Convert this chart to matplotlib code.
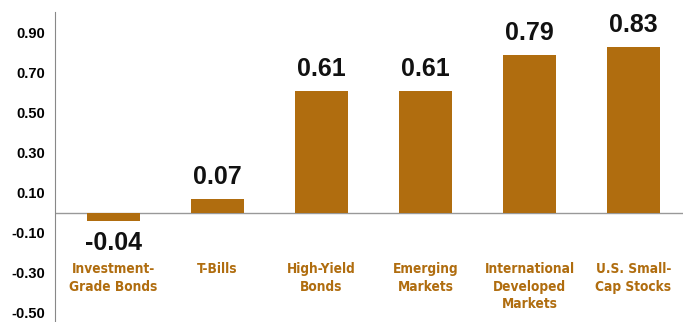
import matplotlib
matplotlib.use("Agg")
import matplotlib.pyplot as plt

categories = ["Investment-\nGrade Bonds", "T-Bills", "High-Yield\nBonds",
              "Emerging\nMarkets", "International\nDeveloped\nMarkets",
              "U.S. Small-\nCap Stocks"]
values = [-0.04, 0.07, 0.61, 0.61, 0.79, 0.83]
value_labels = ["-0.04", "0.07", "0.61", "0.61", "0.79", "0.83"]
yticks = [-0.50, -0.30, -0.10, 0.10, 0.30, 0.50, 0.70, 0.90]

gold = "#B06D0F"

plt.rcParams["font.family"] = ["Liberation Sans", "DejaVu Sans"]

fig = plt.figure(figsize=(6.83, 3.22), dpi=100)
ax = fig.add_axes([55 / 683, 0, 1 - 55 / 683, 1 - 12 / 322])

x = list(range(len(values)))
ax.bar(x, values, width=0.51, color=gold, zorder=2)
ax.axhline(0, color="#999999", lw=1, zorder=1)

for i, v in enumerate(values):
    if v >= 0:
        ax.annotate(value_labels[i], (i, v), xytext=(0, 7), textcoords="offset points",
                    ha="center", va="bottom", fontsize=18, fontweight="bold", color="#111111")
    else:
        ax.annotate(value_labels[i], (i, v), xytext=(0, -7), textcoords="offset points",
                    ha="center", va="top", fontsize=18, fontweight="bold", color="#111111")
    ax.text(i, -0.245, categories[i], ha="center", va="top", fontsize=9.8,
            fontweight="bold", fontstretch="condensed", color=gold,
            family=["DejaVu Sans"], linespacing=1.34)

ax.set_xlim(-0.5625, 5.476)
ax.set_ylim(-0.545, 1.005)
ax.set_yticks(yticks)
ax.set_yticklabels([f"{t:.2f}" for t in yticks], fontsize=10.5, fontweight="bold")
ax.tick_params(axis="y", length=0, pad=7)
ax.set_xticks([])
for s in ["top", "right", "bottom"]:
    ax.spines[s].set_visible(False)
ax.spines["left"].set_color("#888888")

fig.savefig("out.png", dpi=100)
